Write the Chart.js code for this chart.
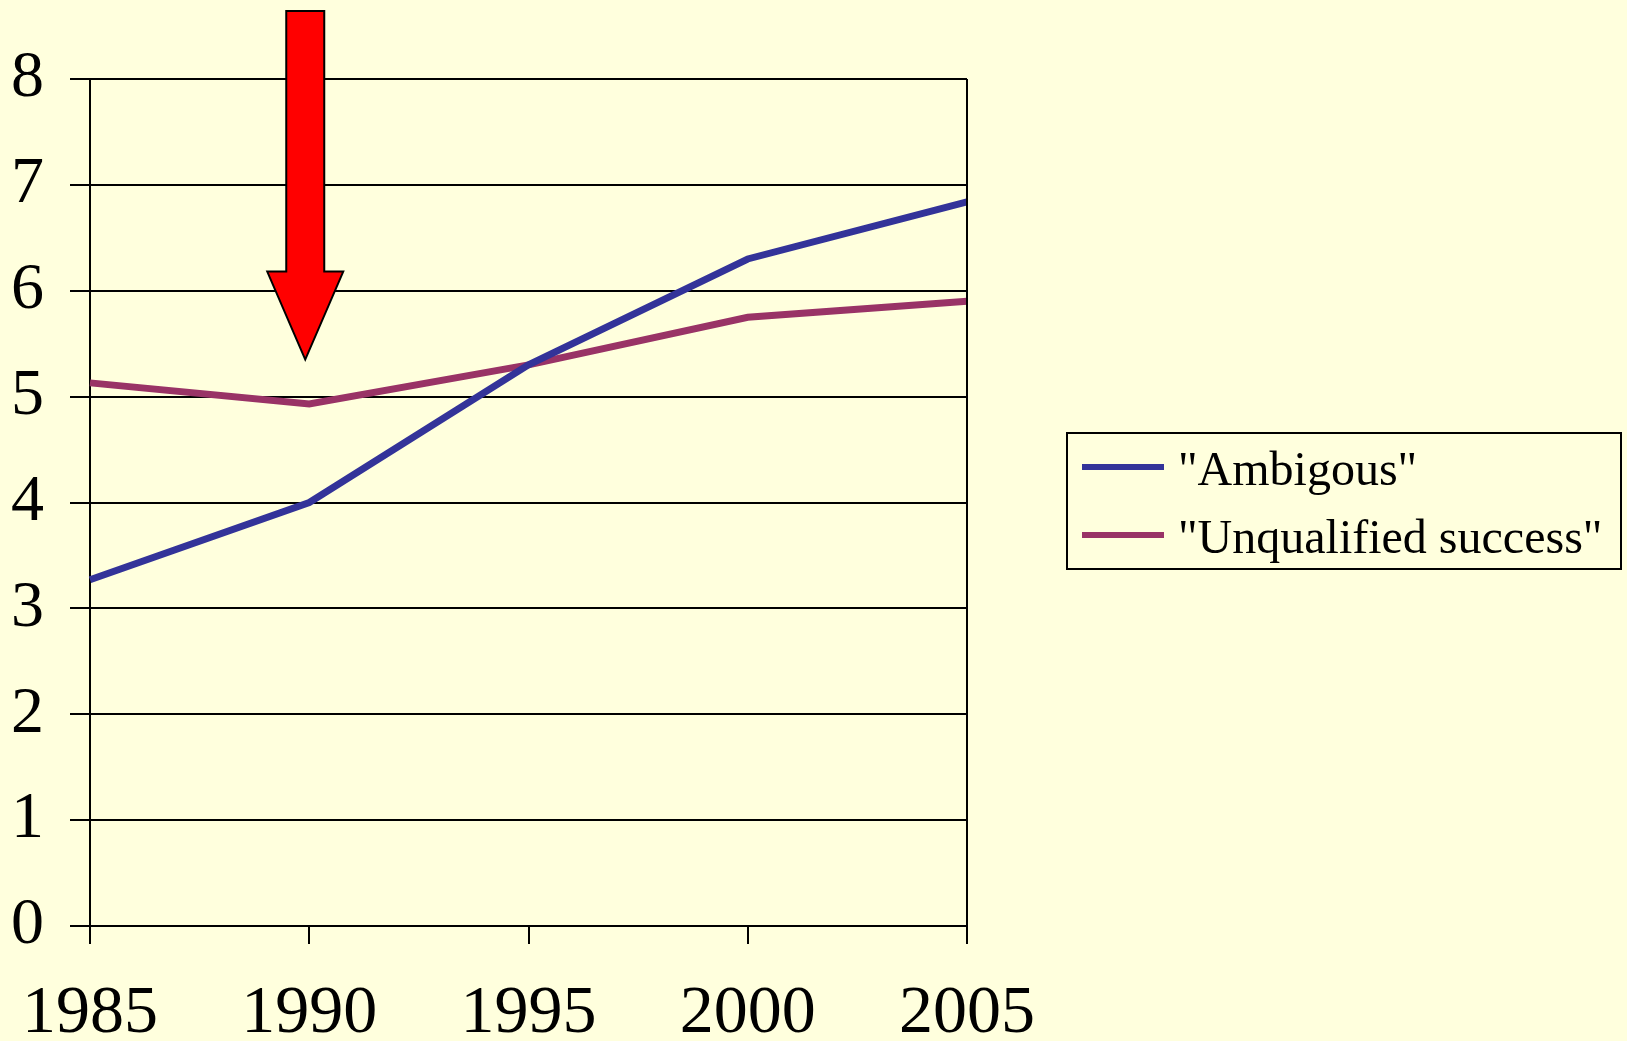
<!DOCTYPE html>
<html>
<head>
<meta charset="utf-8">
<script src="https://cdn.jsdelivr.net/npm/chart.js@4/dist/chart.umd.min.js"></script>
<style>
  html, body { margin: 0; padding: 0; background: #FFFFDD; }
  #wrap { width: 1627px; height: 1041px; position: relative; }
</style>
</head>
<body>
<div id="wrap"><canvas id="c" width="1627" height="1041"></canvas></div>
<script>
const categories = ['1985', '1990', '1995', '2000', '2005'];
const ambiguous = [3.27, 4.0, 5.3, 6.3, 6.84];
const unqualified = [5.13, 4.93, 5.3, 5.75, 5.9];
const seriesNames = ['"Ambigous"', '"Unqualified success"'];
const seriesColors = ['#333399', '#993366'];
const yTicks = [0, 1, 2, 3, 4, 5, 6, 7, 8];
const arrowCategory = '1990';
const arrowTipValue = 5.35;

const FONT = '"Liberation Serif", "Times New Roman", serif';
const BG = '#FFFFDD';

const bgPlugin = {
  id: 'bg',
  beforeDraw(chart) {
    const ctx = chart.ctx;
    ctx.save();
    ctx.fillStyle = BG;
    ctx.fillRect(0, 0, chart.width, chart.height);
    ctx.restore();
  }
};

const framePlugin = {
  id: 'frame',
  afterDatasetsDraw(chart) {
    const { ctx, chartArea } = chart;
    ctx.save();
    ctx.strokeStyle = '#000';
    ctx.lineWidth = 2;
    ctx.beginPath();
    ctx.moveTo(chartArea.right, chartArea.top);
    ctx.lineTo(chartArea.right, chartArea.bottom);
    ctx.stroke();
    ctx.restore();
  }
};

const arrowPlugin = {
  id: 'arrow',
  afterDraw(chart) {
    const ctx = chart.ctx;
    const xs = chart.scales.x, ys = chart.scales.y;
    const cx = xs.getPixelForValue(categories.indexOf(arrowCategory)) - 4;
    const tipY = ys.getPixelForValue(arrowTipValue);
    const top = 11, shaftHalf = 19, headHalf = 38, headH = 88;
    const neck = tipY - headH;
    ctx.save();
    ctx.beginPath();
    ctx.moveTo(cx - shaftHalf, top);
    ctx.lineTo(cx + shaftHalf, top);
    ctx.lineTo(cx + shaftHalf, neck);
    ctx.lineTo(cx + headHalf, neck);
    ctx.lineTo(cx, tipY);
    ctx.lineTo(cx - headHalf, neck);
    ctx.lineTo(cx - shaftHalf, neck);
    ctx.closePath();
    ctx.fillStyle = '#FF0000';
    ctx.fill();
    ctx.lineWidth = 2;
    ctx.strokeStyle = '#000';
    ctx.lineJoin = 'miter';
    ctx.stroke();
    ctx.restore();
  }
};

const legendPlugin = {
  id: 'boxLegend',
  afterDraw(chart) {
    const ctx = chart.ctx;
    const bx = 1067, by = 433, bw = 554, bh = 136;
    ctx.save();
    ctx.strokeStyle = '#000';
    ctx.lineWidth = 2;
    ctx.strokeRect(bx, by, bw, bh);
    ctx.font = '48px ' + FONT;
    ctx.textBaseline = 'alphabetic';
    ctx.fillStyle = '#000';
    chart.data.datasets.forEach((ds, i) => {
      const ly = 467 + i * 68;
      ctx.strokeStyle = ds.borderColor;
      ctx.lineWidth = 6;
      ctx.beginPath();
      ctx.moveTo(1082, ly);
      ctx.lineTo(1164, ly);
      ctx.stroke();
      ctx.fillText(ds.label, 1178, ly + 18);
    });
    ctx.restore();
  }
};

new Chart(document.getElementById('c'), {
  type: 'line',
  data: {
    labels: categories,
    datasets: [
      { label: seriesNames[0], data: ambiguous, borderColor: seriesColors[0], backgroundColor: seriesColors[0], borderWidth: 7, pointRadius: 0, tension: 0, fill: false },
      { label: seriesNames[1], data: unqualified, borderColor: seriesColors[1], backgroundColor: seriesColors[1], borderWidth: 7, pointRadius: 0, tension: 0, fill: false }
    ]
  },
  options: {
    responsive: false,
    animation: false,
    devicePixelRatio: 1,
    layout: { padding: { top: 79, right: 660, left: 0, bottom: 0 } },
    plugins: { legend: { display: false }, tooltip: { enabled: false } },
    scales: {
      x: {
        type: 'category',
        offset: false,
        grid: { drawOnChartArea: false, drawTicks: true, tickLength: 18, color: '#000', lineWidth: 2 },
        border: { display: true, color: '#000', width: 2 },
        ticks: { color: '#000', font: { family: FONT, size: 68, lineHeight: 1.9 }, padding: 6, maxRotation: 0, autoSkip: false },
        afterFit(scale) { scale.height = 115; }
      },
      y: {
        min: 0, max: 8,
        afterBuildTicks(scale) { scale.ticks = yTicks.map(v => ({ value: v })); },
        grid: { color: '#000', lineWidth: 2, tickLength: 20, drawTicks: true },
        border: { display: true, color: '#000', width: 2 },
        ticks: { color: '#000', font: { family: FONT, size: 66 }, padding: 26 },
        afterFit(scale) { scale.width = 90; }
      }
    }
  },
  plugins: [bgPlugin, framePlugin, arrowPlugin, legendPlugin]
});
</script>
</body>
</html>
